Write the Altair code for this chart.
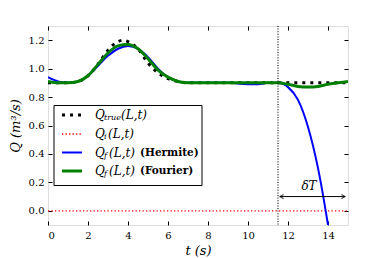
import altair as alt
import pandas as pd

# ---- data ----
t_true = [0, 0.5, 1, 1.5, 2, 2.5, 3, 3.5, 3.75, 4, 4.5, 5, 5.5, 6, 6.5, 7, 8, 9, 10, 11, 12, 13, 14, 15]
q_true = [0.90, 0.90, 0.90, 0.91, 0.95, 1.03, 1.13, 1.19, 1.20, 1.19, 1.14, 1.04, 0.97, 0.93, 0.91, 0.90,
          0.90, 0.90, 0.90, 0.90, 0.90, 0.90, 0.90, 0.90]

t_i = [0, 15]
q_i = [0.0, 0.0]

t_herm = [0, 0.5, 1, 1.5, 2, 2.5, 3, 3.5, 4, 4.5, 5, 5.5, 6, 6.5, 7, 8, 9, 10, 10.5, 11, 11.5, 12, 12.5,
          13, 13.5, 14, 14.2]
q_herm = [0.94, 0.91, 0.90, 0.91, 0.95, 1.02, 1.09, 1.14, 1.16, 1.14, 1.08, 1.00, 0.94, 0.91, 0.90, 0.90,
          0.90, 0.89, 0.89, 0.90, 0.90, 0.87, 0.78, 0.59, 0.30, -0.10, -0.28]

t_four = [0, 0.5, 1, 1.5, 2, 2.5, 3, 3.5, 4, 4.5, 5, 5.5, 6, 6.5, 7, 8, 9, 10, 11, 11.5, 12, 12.5, 13,
          13.5, 14, 14.5, 15]
q_four = [0.91, 0.90, 0.90, 0.91, 0.95, 1.03, 1.11, 1.16, 1.17, 1.14, 1.07, 0.99, 0.94, 0.91, 0.90, 0.90,
          0.90, 0.90, 0.90, 0.90, 0.89, 0.875, 0.87, 0.875, 0.89, 0.90, 0.91]

t_cut = [11.5]
arrow_t = [11.6, 14.85]
arrow_q = [0.1, 0.1]
label_t = [13.05]
label_q = [0.175]
label_txt = ["δT"]

x_ticks = [0, 2, 4, 6, 8, 10, 12, 14]
y_ticks = [0.0, 0.2, 0.4, 0.6, 0.8, 1.0, 1.2]

legend_labels = ["true", "i", "f", "f"]
legend_extra = ["", "", "(Hermite)", "(Fourier)"]

FONT = "DejaVu Serif"
W, H = 300, 199

xs = alt.Scale(domain=[0, 15], nice=False, zero=False)
ys = alt.Scale(domain=[-0.1, 1.3], nice=False, zero=False)

def df(t, q):
    return pd.DataFrame({"t": t, "q": q})

def line(t, q, **kw):
    return alt.Chart(df(t, q)).mark_line(interpolate="monotone", clip=True, **kw).encode(
        x=alt.X("t:Q", scale=xs, axis=None),
        y=alt.Y("q:Q", scale=ys, axis=None),
    )

axis_common = dict(domain=False, grid=False, tickSize=4, offset=-4, tickColor="black", tickWidth=1,
                   labelFont=FONT, labelFontSize=10, labelColor="black",
                   titleFont=FONT, titleFontSize=13, titleFontWeight="normal", titleColor="black",
                   titleFontStyle="italic")

axes_main = alt.Chart(df(t_i, q_i)).mark_point(opacity=0).encode(
    x=alt.X("t:Q", scale=xs, axis=alt.Axis(orient="bottom", values=x_ticks, title="t (s)", format="d",
                                           labelPadding=5, titlePadding=4, **axis_common)),
    y=alt.Y("q:Q", scale=ys, axis=alt.Axis(orient="left", values=y_ticks, title="Q (m³/s)", format=".1f",
                                           labelPadding=4, titlePadding=6, **axis_common)),
)
axes_mirror = alt.Chart(df(t_i, q_i)).mark_point(opacity=0).encode(
    x=alt.X("t:Q", scale=xs, axis=alt.Axis(orient="top", values=x_ticks, labels=False, title=None,
                                           domain=False, grid=False, tickSize=4, offset=-4,
                                           tickColor="black")),
    y=alt.Y("q:Q", scale=ys, axis=alt.Axis(orient="right", values=y_ticks, labels=False, title=None,
                                           domain=False, grid=False, tickSize=4, offset=-4,
                                           tickColor="black")),
)

TRUE_STYLE = dict(color="black", strokeWidth=3, strokeDash=[3, 5])
QI_STYLE = dict(color="#ff0000", strokeWidth=1.3, strokeDash=[1.3, 2.2])
HERM_STYLE = dict(color="#0000ff", strokeWidth=2)
FOUR_STYLE = dict(color="#008000", strokeWidth=3)

true_l = line(t_true, q_true, **TRUE_STYLE)
qi_l = line(t_i, q_i, **QI_STYLE)
herm_l = line(t_herm, q_herm, **HERM_STYLE)
four_l = line(t_four, q_four, **FOUR_STYLE)

vline = alt.Chart(pd.DataFrame({"t": t_cut})).mark_rule(
    color="black", strokeWidth=1.1, strokeDash=[1, 1.6]).encode(
    x=alt.X("t:Q", scale=xs, axis=None))

arrow_df = pd.DataFrame({"t": arrow_t, "q": arrow_q,
                         "shape": ["M 1.2 -0.7 L 0 0 L 1.2 0.7", "M -1.2 -0.7 L 0 0 L -1.2 0.7"]})
arrow_line = alt.Chart(arrow_df).mark_line(color="black", strokeWidth=1).encode(
    x=alt.X("t:Q", scale=xs, axis=None), y=alt.Y("q:Q", scale=ys, axis=None))
arrow_heads = alt.Chart(arrow_df).mark_point(color="black", filled=False, strokeWidth=1.2, size=36).encode(
    x=alt.X("t:Q", scale=xs, axis=None), y=alt.Y("q:Q", scale=ys, axis=None),
    shape=alt.Shape("shape:N", scale=None))
dT = alt.Chart(pd.DataFrame({"t": label_t, "q": label_q, "s": label_txt})).mark_text(
    font=FONT, fontSize=12, fontStyle="italic", color="black").encode(
    x=alt.X("t:Q", scale=xs, axis=None), y=alt.Y("q:Q", scale=ys, axis=None), text="s:N")

# ---- manual legend ----
box = alt.Chart(df([0], [0])).mark_rect(fill="white", stroke="black", strokeWidth=1).encode(
    x=alt.value(6), x2=alt.value(154), y=alt.value(79.5), y2=alt.value(159.5))

row_y = [89, 108, 126.5, 145]
styles = [TRUE_STYLE, QI_STYLE, HERM_STYLE, FOUR_STYLE]
sub_w = [16, 3, 4, 4]

leg_layers = [box]
for i in range(4):
    y = row_y[i]
    leg_layers.append(alt.Chart(df([0], [0])).mark_rule(**styles[i]).encode(
        x=alt.value(14), x2=alt.value(34), y=alt.value(y)))
    tx = dict(font=FONT, color="black", align="left", baseline="middle")
    leg_layers.append(alt.Chart(df([0], [0])).mark_text(fontSize=12, fontStyle="italic", **tx).encode(
        x=alt.value(47), y=alt.value(y), text=alt.value("Q")))
    leg_layers.append(alt.Chart(df([0], [0])).mark_text(fontSize=8, fontStyle="italic", **tx).encode(
        x=alt.value(56), y=alt.value(y + 3), text=alt.value(legend_labels[i])))
    x_par = 56 + sub_w[i] + 1
    leg_layers.append(alt.Chart(df([0], [0])).mark_text(fontSize=12, fontStyle="italic", **tx).encode(
        x=alt.value(x_par), y=alt.value(y), text=alt.value("(L,t)")))
    if legend_extra[i]:
        leg_layers.append(alt.Chart(df([0], [0])).mark_text(fontSize=10.5, fontWeight="bold", **tx).encode(
            x=alt.value(92), y=alt.value(y), text=alt.value(legend_extra[i])))

chart = alt.layer(
    axes_main, axes_mirror, true_l, qi_l, herm_l, four_l, vline, arrow_line, arrow_heads, dT, *leg_layers
).resolve_axis(x="independent", y="independent").properties(
    width=W, height=H,
    autosize=alt.AutoSizeParams(type="none"),
    padding={"left": 40, "top": 18, "right": 30, "bottom": 33},
).configure_view(stroke="black", strokeWidth=1).configure(background="white")

chart.save("out.html", embed_options={"renderer": "svg", "actions": False})
